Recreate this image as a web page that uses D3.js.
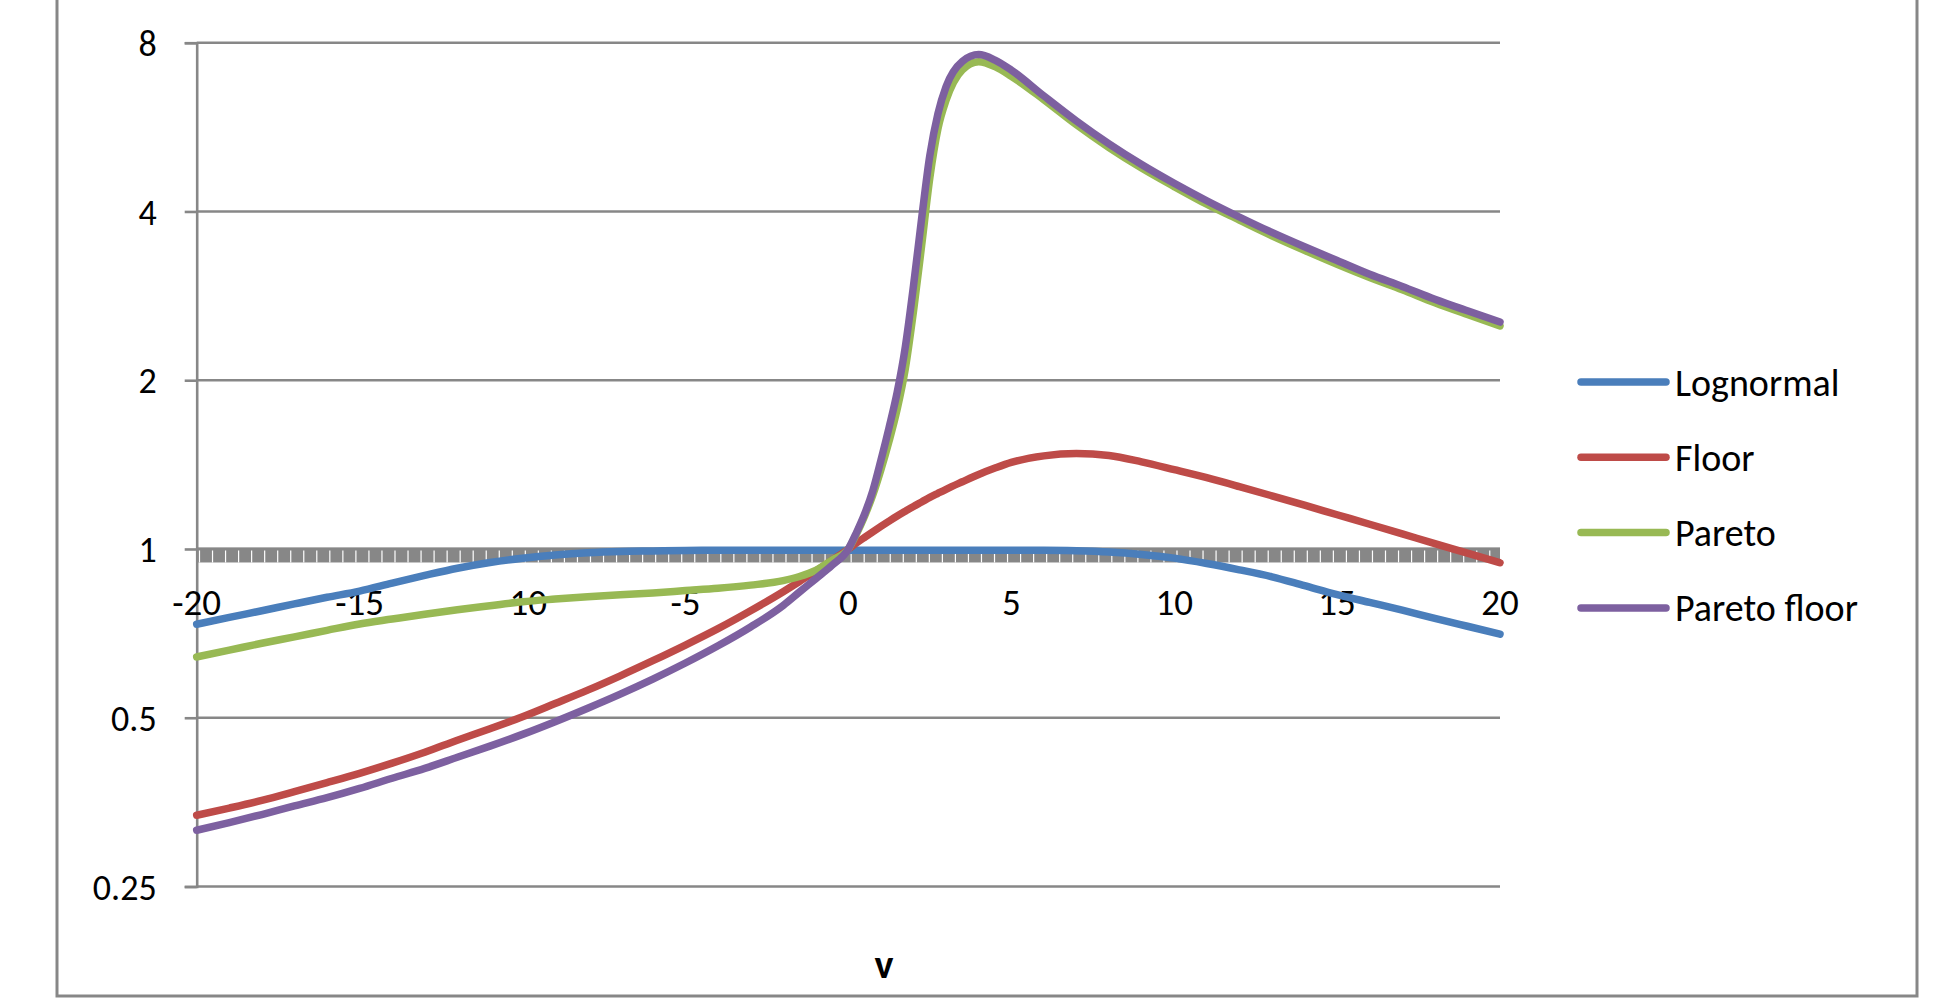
<!DOCTYPE html>
<html>
<head>
<meta charset="utf-8">
<script src="https://cdn.jsdelivr.net/npm/d3@7"></script>
<style>
  body { margin: 0; background: #fff; }
  svg { display: block; }
  text { font-family: Calibri, Carlito, Lato, sans-serif; fill: #000; }
</style>
</head>
<body>
<svg></svg>
<script>
// values
var xs = [-20, -19, -18, -17, -16, -15, -14, -13, -12, -11, -10, -9, -8, -7, -6, -5, -4, -3, -2, -1.5, -1, -0.5,
  0, 0.25, 0.5, 0.75, 1, 1.25, 1.5, 1.75, 2, 2.25, 2.5, 2.75, 3, 3.5, 4, 4.5, 5,
  6, 7, 8, 9, 10, 11, 12, 13, 14, 15, 16, 17, 18, 19, 20];

var lognormal = [0.734, 0.755, 0.776, 0.798, 0.82, 0.841, 0.869, 0.897, 0.924, 0.946, 0.963, 0.976, 0.985, 0.99, 0.992, 0.994, 0.995, 0.995, 0.995, 0.995, 0.995, 0.995,
  0.995, 0.995, 0.995, 0.995, 0.995, 0.995, 0.995, 0.995, 0.995, 0.995, 0.995, 0.995, 0.995, 0.995, 0.995, 0.995, 0.995,
  0.995, 0.993, 0.988, 0.978, 0.963, 0.942, 0.918, 0.892, 0.86, 0.829, 0.803, 0.778, 0.752, 0.728, 0.705];

var floor = [0.335, 0.345, 0.356, 0.369, 0.383, 0.398, 0.415, 0.434, 0.456, 0.478, 0.502, 0.53, 0.56, 0.594, 0.632, 0.674, 0.721, 0.776, 0.839, 0.875, 0.913, 0.955,
  1.0, 1.025, 1.049, 1.073, 1.097, 1.121, 1.145, 1.168, 1.191, 1.213, 1.236, 1.257, 1.278, 1.318, 1.358, 1.394, 1.427,
  1.466, 1.48, 1.468, 1.43, 1.385, 1.34, 1.292, 1.244, 1.197, 1.151, 1.107, 1.064, 1.022, 0.983, 0.945];

var pareto = [0.642, 0.66, 0.679, 0.697, 0.716, 0.735, 0.75, 0.765, 0.779, 0.792, 0.805, 0.814, 0.822, 0.829, 0.835, 0.843, 0.851, 0.862, 0.878, 0.893, 0.916, 0.955,
  1.0, 1.064, 1.145, 1.248, 1.385, 1.558, 1.778, 2.1, 2.657, 3.48, 4.59, 5.62, 6.32, 7.16, 7.4, 7.25, 6.97,
  6.33, 5.71, 5.2, 4.78, 4.43, 4.12, 3.86, 3.62, 3.41, 3.22, 3.05, 2.9, 2.75, 2.62, 2.5];

var paretoFloor = [0.315, 0.325, 0.336, 0.348, 0.36, 0.374, 0.39, 0.406, 0.425, 0.445, 0.467, 0.492, 0.52, 0.551, 0.586, 0.626, 0.672, 0.726, 0.793, 0.838, 0.885, 0.935,
  1.0, 1.07, 1.155, 1.27, 1.44, 1.647, 1.905, 2.297, 2.95, 3.89, 5.03, 5.98, 6.68, 7.41, 7.62, 7.45, 7.15,
  6.43, 5.8, 5.28, 4.85, 4.49, 4.18, 3.91, 3.67, 3.46, 3.27, 3.09, 2.94, 2.79, 2.66, 2.54];

var seriesNames = ['Lognormal', 'Floor', 'Pareto', 'Pareto floor'];
var yTicks = [0.25, 0.5, 1, 2, 4, 8];
var xTicks = [-20, -15, -10, -5, 0, 5, 10, 15, 20];
var xTitle = 'v';

var width = 1936;
var height = 1001;
var colors = ['#4a7ebb', '#be4b48', '#98b954', '#7d60a0'];
var gray = '#878787';

var svg = d3.select('svg')
  .attr('width', width)
  .attr('height', height);

var x = d3.scaleLinear().domain([-20, 20]).range([196.7, 1500]);
var y = d3.scaleLog().base(2).domain([0.25, 8]).range([886.5, 42.7]);

// outer chart border (top edge sits above the picture)
svg.append('rect')
  .attr('x', 57).attr('y', -10)
  .attr('width', 1860).attr('height', 1006)
  .attr('fill', 'none')
  .attr('stroke', gray)
  .attr('stroke-width', 3);

// gridlines
svg.append('g')
  .selectAll('line')
  .data(yTicks)
  .enter().append('line')
    .attr('x1', x(-20)).attr('x2', x(20))
    .attr('y1', d => y(d)).attr('y2', d => y(d))
    .attr('stroke', gray)
    .attr('stroke-width', 2.6);

// y axis
var yAxis = svg.append('g')
  .attr('transform', 'translate(' + x(-20) + ',0)')
  .call(d3.axisLeft(y).tickValues(yTicks).tickFormat(d => d).tickSize(12).tickPadding(28));
yAxis.select('.domain').attr('stroke', gray).attr('stroke-width', 2.6);
yAxis.selectAll('.tick line').attr('stroke', gray).attr('stroke-width', 2.6);
yAxis.selectAll('.tick text')
  .attr('font-size', 36)
  .attr('font-family', null)
  .attr('dy', '0.35em');

// x axis crosses at 1: dense tick marks form a gray band
var axisY = y(1);
svg.append('rect')
  .attr('x', x(-20)).attr('y', axisY - 1.5)
  .attr('width', x(20) - x(-20)).attr('height', 15)
  .attr('fill', gray);
svg.append('g')
  .selectAll('line')
  .data(d3.range(-20, 19.9, 0.4))
  .enter().append('line')
    .attr('x1', d => x(d) + 2.8).attr('x2', d => x(d) + 2.8)
    .attr('y1', axisY + 1.5).attr('y2', axisY + 13.5)
    .attr('stroke', '#fff')
    .attr('stroke-width', 1.2);

svg.append('g')
  .selectAll('text')
  .data(xTicks)
  .enter().append('text')
    .attr('x', d => x(d))
    .attr('y', 615)
    .attr('text-anchor', 'middle')
    .attr('font-size', 37)
    .text(d => d);

svg.append('text')
  .attr('x', 884)
  .attr('y', 978)
  .attr('text-anchor', 'middle')
  .attr('font-size', 40)
  .attr('font-weight', 'bold')
  .text(xTitle);

// series
var series = [lognormal, floor, pareto, paretoFloor].map(function(vals, i) {
  return { name: seriesNames[i], values: xs.map((v, j) => [v, vals[j]]) };
});

var line = d3.line()
  .x(d => x(d[0]))
  .y(d => y(d[1]))
  .curve(d3.curveMonotoneX);

svg.append('g')
  .selectAll('path')
  .data(series)
  .enter().append('path')
    .attr('d', d => line(d.values))
    .attr('fill', 'none')
    .attr('stroke', (d, i) => colors[i])
    .attr('stroke-width', 7.5)
    .attr('stroke-linecap', 'round')
    .attr('stroke-linejoin', 'round');

// legend
var legend = svg.append('g')
  .selectAll('g')
  .data(seriesNames)
  .enter().append('g')
    .attr('transform', (d, i) => 'translate(0,' + (382 + i * 75.3) + ')');
legend.append('line')
  .attr('x1', 1581).attr('x2', 1666)
  .attr('stroke', (d, i) => colors[i])
  .attr('stroke-width', 7.5)
  .attr('stroke-linecap', 'round');
legend.append('text')
  .attr('x', 1675)
  .attr('y', 13.5)
  .attr('font-size', 38)
  .text(d => d);
</script>
</body>
</html>
